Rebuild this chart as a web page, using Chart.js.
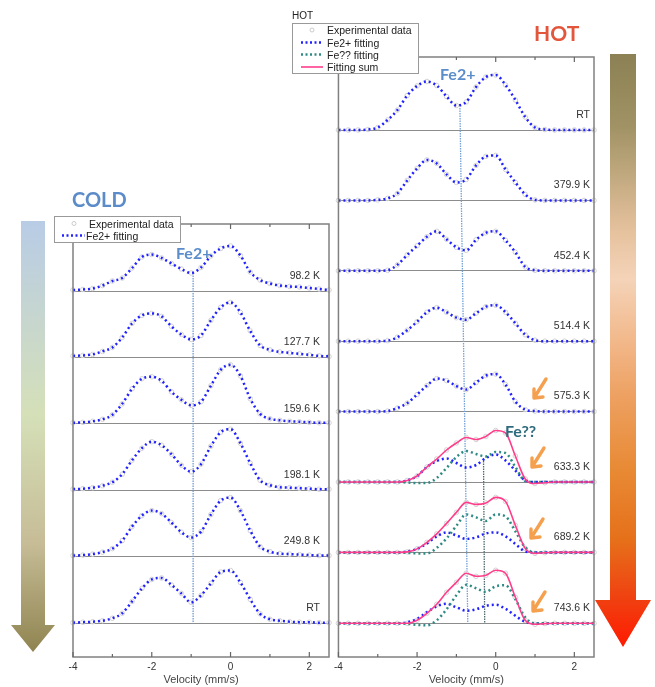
<!DOCTYPE html>
<html><head><meta charset="utf-8">
<script src="https://cdn.jsdelivr.net/npm/chart.js@4/dist/chart.umd.min.js"></script>
<style>
html,body{margin:0;padding:0;background:#fff;}
#wrap{position:relative;width:655px;height:687px;overflow:hidden;}
.box{position:absolute;top:0;}
#ov{position:absolute;left:0;top:0;pointer-events:none;}
</style></head><body>
<div id="wrap">
<div class="box" style="left:0;width:335px;height:687px"><canvas id="cLeft" width="335" height="687"></canvas></div>
<div class="box" style="left:330px;width:325px;height:687px"><canvas id="cRight" width="325" height="687"></canvas></div>
<svg id="ov" width="655" height="687" xmlns="http://www.w3.org/2000/svg">
 <defs>
  <linearGradient id="gCold" x1="0" y1="221" x2="0" y2="652" gradientUnits="userSpaceOnUse">
   <stop offset="0" stop-color="#b8cce6"/><stop offset="0.45" stop-color="#d5e0b8"/>
   <stop offset="0.75" stop-color="#c6bc96"/><stop offset="1" stop-color="#8f8450"/>
  </linearGradient>
  <linearGradient id="gHot" x1="0" y1="54" x2="0" y2="647" gradientUnits="userSpaceOnUse">
   <stop offset="0" stop-color="#8b8154"/><stop offset="0.12" stop-color="#a09264"/>
   <stop offset="0.3" stop-color="#e6c29e"/><stop offset="0.38" stop-color="#f4d3b8"/>
   <stop offset="0.48" stop-color="#f2b98c"/><stop offset="0.58" stop-color="#eda060"/>
   <stop offset="0.7" stop-color="#e88a35"/><stop offset="0.82" stop-color="#e6701a"/>
   <stop offset="0.92" stop-color="#f04010"/><stop offset="1" stop-color="#ff1a00"/>
  </linearGradient>
 </defs>
 <polygon points="21,221 45,221 45,625 55,625 33,652 11,625 21,625" fill="url(#gCold)"/>
 <polygon points="610,54 636,54 636,600 651,600 623,647 595,600 610,600" fill="url(#gHot)"/>
 <g font-family="Lato, 'Open Sans', sans-serif" font-weight="700">
  <text x="72" y="207" font-size="20" fill="#5b8bc8">COLD</text>
  <text x="534" y="41" font-size="21" fill="#e2563c">HOT</text>
  <text x="176" y="259" font-size="16" fill="#5b8dca">Fe2+</text>
  <text x="440" y="80" font-size="16" fill="#5b8dca">Fe2+</text>
  <text x="505" y="437" font-size="16" fill="#2f6b7d">Fe??</text>
 </g>
 <g fill="none" stroke="#f5a04e" stroke-width="3.4" stroke-linecap="round" stroke-linejoin="round">
  <path d="M546,379 Q541,387 534,398 M534,389 L534,398 L543,397"/>
  <path d="M544,448 Q539,456 532,467 M532,458 L532,467 L541,466"/>
  <path d="M543,519 Q538,527 531,538 M531,529 L531,538 L540,537"/>
  <path d="M545,592 Q540,600 533,611 M533,602 L533,611 L542,610"/>
 </g>
 <g font-family="'Liberation Sans', Arial, sans-serif" font-size="10.5" fill="#222">
  <rect x="54.5" y="216.5" width="126" height="26" fill="#fff" stroke="#999"/>
  <circle cx="74" cy="223.5" r="2" fill="none" stroke="#ccc"/>
  <text x="89" y="227.5">Experimental data</text>
  <line x1="62" y1="235.5" x2="85" y2="235.5" stroke="#2222ff" stroke-width="2.5" stroke-dasharray="2 2.5"/>
  <text x="86" y="239.5">Fe2+ fitting</text>
  <text x="292" y="19" font-size="10">HOT</text>
  <rect x="292.5" y="23.5" width="126" height="50" fill="#fff" stroke="#999"/>
  <circle cx="312" cy="30" r="2" fill="none" stroke="#ccc"/>
  <text x="327" y="34">Experimental data</text>
  <line x1="301" y1="42.5" x2="323" y2="42.5" stroke="#2222ff" stroke-width="2.5" stroke-dasharray="2 2.5"/>
  <text x="327" y="46.5">Fe2+ fitting</text>
  <line x1="301" y1="54.5" x2="323" y2="54.5" stroke="#2e8b84" stroke-width="2.5" stroke-dasharray="2 2.5"/>
  <text x="327" y="58.5">Fe?? fitting</text>
  <line x1="301" y1="67" x2="323" y2="67" stroke="#ff3d8b" stroke-width="1.6"/>
  <text x="327" y="71">Fitting sum</text>
 </g>
</svg>
</div>
<script>
// ---------- data ----------
const velocity = [-4,-3.75,-3.5,-3.25,-3,-2.75,-2.5,-2.25,-2,-1.75,-1.5,-1.25,-1,-0.75,-0.5,-0.25,0,0.25,0.5,0.75,1,1.25,1.5,1.75,2,2.25,2.5];
const xTicks = [-4,-2,0,2];
const xMinorTicks = [-3,-1,1];

const coldTemps = ['98.2 K','127.7 K','159.6 K','198.1 K','249.8 K','RT'];
const cold982  = [1,1.5,2.5,5.5,10,13,23,34,36.5,33,27.5,22,18,23.5,35,42.5,45,35.5,19,11,7.5,5.5,4.5,4,3,2,1];
const cold1277 = [1.5,2,3,6,10,20,34,42,44,41,31,23,18,22,37,50,55,45,26.5,12,7.5,5.5,4.5,3.5,2.5,1.5,1];
const cold1596 = [1,1.5,2.5,4.5,9,20,35,45,47,43,32,24,18.5,22,38,54,59,48,25,10,5,3.5,2.5,2,1.5,1,1];
const cold1981 = [1,1.5,2.5,4.5,8,16,30,42,48.5,45,36,25,18.5,26,44,58,61,47,27,10,5,3,2.5,2,1.5,1,1];
const cold2498 = [1,1.5,2.5,4.5,8,16,30,41,46,43,34,24.5,19,25,42,56,59,46,26,10,5,3,2.5,2,1.5,1,1];
const coldRT   = [0.5,1,1.5,2.5,5,10,22,35,44,45.5,38.5,30,21,28,40,51.5,53,41,24,9.5,4,2.5,1.5,1,1,0.5,0.5];

const hotTemps = ['RT','379.9 K','452.4 K','514.4 K','575.3 K','633.3 K','689.2 K','743.6 K'];
const hotFe2RT  = [0,0,0,0.5,2.5,10,20,34.5,44,48.5,44.5,33.5,24.5,28,43,53,55,45,30,13,2.5,0.5,0,0,0,0,0];
const hotFe2380 = [0,0,0,0,0.5,2,7,20,32,40.5,37,26,18,21,35,44,45,31,18,6,0.5,0,0,0,0,0,0];
const hotFe2452 = [0,0,0,0,0,0.5,6,16,25,34,39.5,31.5,23.5,20.5,31,38,39.5,30.5,18.5,4,0.5,0,0,0,0,0,0];
const hotFe2514 = [0,0,0,0,0,0.5,4,11,19.5,29,33.5,29,23.5,21.5,28,34.5,36,29,18,6.5,1,0,0,0,0,0,0];
const hotFe2575 = [0,0,0,0,0,0.5,3.5,8.5,17,26,33,31,25.5,22,29,36,37.5,27,10,2,0.5,0,0,0,0,0,0];
const hotFe2633 = [0,0,0,0,0,0,0,1.5,6,15,21,23.5,19,14.5,17,24,27.5,21.5,11.5,1.7,0,0,0,0,0,0,0];
const hotFe2689 = [0,0,0,0,0,0,0,1,3.5,9,16,20,17,13.5,15,19,20,16,8.5,1,0,0,0,0,0,0,0];
const hotFe2743 = [0,0,0,0,0,0,0,1,4.5,11,17,19.5,16,12.5,14,17.5,18.5,14.5,7.5,1.5,0,0,0,0,0,0,0];
const hotFeX633 = [0,0,0,0,0,0,0,-0.5,-1,-1,4,14,25,31,28,25.5,30,29,15,1,0,0,0,0,0,0,0];
const hotFeX689 = [0,0,0,0,0,0,0,-0.5,-1,-1,4.5,14,26.5,38,35,31.5,38,36,21,5,0,0,0,0,0,0,0];
const hotFeX743 = [0,0,0,0,0,0,0,-0.5,-1.5,-2,3,14,28,38.5,35,31.5,37,38,24,6,0,0,0,0,0,0,0];
const hotSum633 = [0,0,0,0,0,0,0,1.5,6,15,23,32,39,44.5,42.5,45.5,51.5,49,26,3,-1.5,-0.7,0,0,0,0,0];
const hotSum689 = [0,0,0,0,0,0,0,0.5,3.5,10,18.5,29,40,50,48,49.5,55,51,27,4,-1,-0.3,0,0,0,0,0];
const hotSum743 = [0,0,0,0,0,0,0,0,3,10,19,31,41,50,47,48,53,50,26,3,-1,-0.3,0,0,0,0,0];

// guide lines: velocity at start / end, start panel & height, end panel & height
const coldGuide = {x0:-0.95, x1:-0.95, fromPanel:0, fromValue:18, toPanel:5, toValue:0};
const hotGuideFe2 = {x0:-0.91, x1:-0.71, fromPanel:0, fromValue:22, toPanel:7, toValue:0};
const hotGuideFeX = {x0:-0.31, x1:-0.28, fromPanel:5, fromValue:23.5, toPanel:7, toValue:0};

// ---------- chart building ----------
const BLUE = '#2222ff', TEAL = '#2e8b84', PINK = '#ff3d8b';
const pts = arr => arr.map((y,i) => ({x: velocity[i], y}));

function expSet(arr, ax){
  return {type:'line', data: pts(arr), yAxisID: ax, showLine:false, pointRadius:2.3,
    pointBorderWidth:1, pointBorderColor:'#d2d2d2', pointBackgroundColor:'rgba(255,255,255,0.5)', order:5, clip:10};
}
function fitSet(arr, ax, color, order){
  return {type:'line', data: pts(arr), yAxisID: ax, borderColor: color, borderWidth:2.5, borderDash:[2,3],
    pointRadius:0, cubicInterpolationMode:'monotone', fill:false, order, clip:10};
}
function sumSet(arr, ax){
  return {type:'line', data: pts(arr), yAxisID: ax, borderColor: PINK, borderWidth:1.6,
    pointRadius:0, cubicInterpolationMode:'monotone', fill:false, order:1, clip:10};
}
function panelAxis(i, min, max, stack){
  return {type:'linear', position:'right', stack, stackWeight: max-min, weight: i, min, max,
    ticks:{display:false}, grid:{color:'#8c8c8c', lineWidth:1, drawTicks:false}, border:{display:false},
    afterBuildTicks: s => { s.ticks = [{value:0}]; }};
}
const xAxis = {type:'linear', position:'bottom', min:-4, max:2.5,
  afterBuildTicks: s => { s.ticks = xTicks.map(v => ({value:v})); },
  afterFit: s => { s.height = 30; },
  ticks:{color:'#333', font:{family:"'Liberation Sans', Arial, sans-serif", size:10}, padding:4, maxRotation:0},
  grid:{display:false, drawTicks:false}, border:{display:false},
  title:{display:true, text:'Velocity (mm/s)', color:'#444', font:{family:"'Liberation Sans', Arial, sans-serif", size:11}, padding:{top:1,bottom:0}}};

const framePlugin = {
  id:'frame',
  beforeDatasetsDraw(chart, args, o){
    const ctx = chart.ctx, xs = chart.scales.x;
    ctx.save();
    (o.guides||[]).forEach(g => {
      const y0 = chart.scales['p'+g.fromPanel].getPixelForValue(g.fromValue);
      const y1 = chart.scales['p'+g.toPanel].getPixelForValue(g.toValue);
      ctx.beginPath(); ctx.strokeStyle = g.color; ctx.lineWidth = 1.3; ctx.setLineDash([1.5,1]);
      ctx.moveTo(xs.getPixelForValue(g.x0), y0); ctx.lineTo(xs.getPixelForValue(g.x1), y1); ctx.stroke();
    });
    ctx.restore();
  },
  afterDatasetsDraw(chart, args, o){
    const ctx = chart.ctx, a = chart.chartArea, xs = chart.scales.x;
    ctx.save();
    ctx.font = "10.5px 'Liberation Sans', Arial, sans-serif";
    ctx.fillStyle = '#333'; ctx.textAlign = 'right'; ctx.textBaseline = 'middle';
    o.labels.forEach((t,i) => {
      const y = chart.scales['p'+i].getPixelForValue(0) - 15;
      ctx.fillText(t, a.right - o.inset, y);
    });
    ctx.strokeStyle = '#808080'; ctx.lineWidth = 1.5;
    ctx.strokeRect(a.left, a.top, a.right - a.left, a.bottom - a.top);
    ctx.lineWidth = 1.2; ctx.strokeStyle = '#666';
    const tick = (v, len) => {
      const x = xs.getPixelForValue(v);
      ctx.beginPath(); ctx.moveTo(x, a.bottom); ctx.lineTo(x, a.bottom - len);
      ctx.moveTo(x, a.top); ctx.lineTo(x, a.top + len); ctx.stroke();
    };
    xTicks.forEach(v => tick(v, 5));
    xMinorTicks.forEach(v => tick(v, 3));
    ctx.restore();
  }
};

// ---------- cold chart ----------
const coldFits = [cold982, cold1277, cold1596, cold1981, cold2498, coldRT];
const coldScales = {x: xAxis};
const coldSets = [];
coldFits.forEach((arr,i) => {
  const ax = 'p'+i;
  const last = i === coldFits.length-1;
  coldScales[ax] = panelAxis(i, last ? -34 : 0, i === 0 ? 67 : 66.4, 'cold');
  if (last) coldScales[ax].max = 67;
  coldSets.push(expSet(arr, ax), fitSet(arr, ax, BLUE, 3));
});
new Chart(document.getElementById('cLeft'), {
  type:'line', data:{datasets: coldSets},
  options:{responsive:false, animation:false, events:[],
    layout:{padding:{left:73, right:6, top:224, bottom:0}},
    scales: coldScales,
    plugins:{legend:{display:false}, tooltip:{enabled:false},
      frame:{labels: coldTemps, inset: 9, guides:[Object.assign({color:'#6f9bd1'}, coldGuide)]}}},
  plugins:[framePlugin]
});

// ---------- hot chart ----------
const hotFe2 = [hotFe2RT, hotFe2380, hotFe2452, hotFe2514, hotFe2575, hotFe2633, hotFe2689, hotFe2743];
const hotFeX = {5: hotFeX633, 6: hotFeX689, 7: hotFeX743};
const hotSum = {5: hotSum633, 6: hotSum689, 7: hotSum743};
const hotScales = {x: xAxis};
const hotSets = [];
hotFe2.forEach((arr,i) => {
  const ax = 'p'+i;
  let min = 0, max = 70.4;
  if (i === 0) max = 73;
  if (i === hotFe2.length-1) { min = -33.7; max = 70.9; }
  hotScales[ax] = panelAxis(i, min, max, 'hot');
  hotSets.push(expSet(hotSum[i] || arr, ax), fitSet(arr, ax, BLUE, 3));
  if (hotFeX[i]) hotSets.push(fitSet(hotFeX[i], ax, TEAL, 2), sumSet(hotSum[i], ax));
});
new Chart(document.getElementById('cRight'), {
  type:'line', data:{datasets: hotSets},
  options:{responsive:false, animation:false, events:[],
    layout:{padding:{left:7, right:61, top:57, bottom:0}},
    scales: hotScales,
    plugins:{legend:{display:false}, tooltip:{enabled:false},
      frame:{labels: hotTemps, inset: 4, guides:[
        Object.assign({color:'#74a2d8'}, hotGuideFe2),
        Object.assign({color:'#4e6a70'}, hotGuideFeX)]}}},
  plugins:[framePlugin]
});
</script>
</body></html>
